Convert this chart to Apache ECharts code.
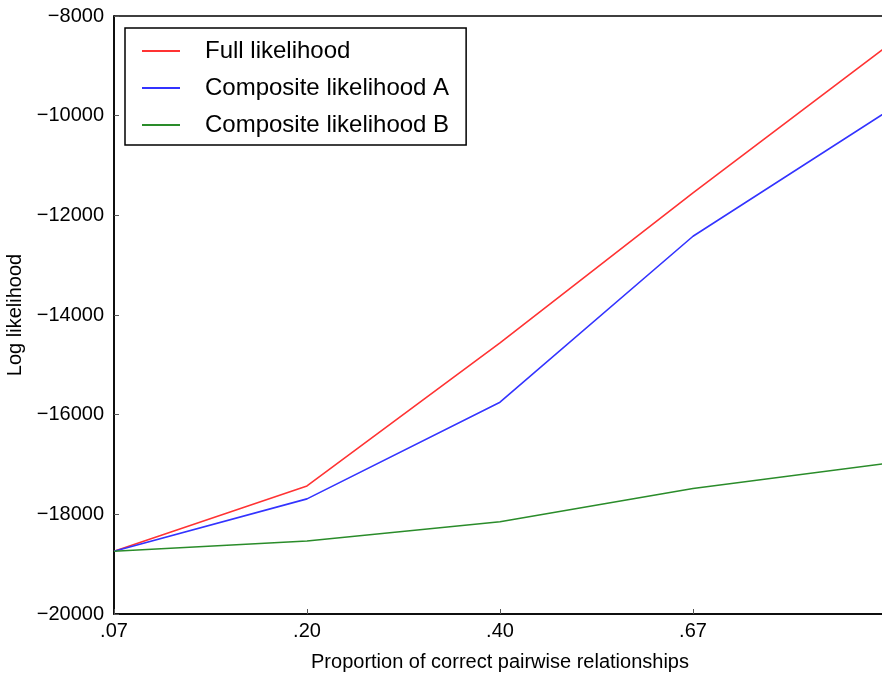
<!DOCTYPE html>
<html>
<head>
<meta charset="utf-8">
<script src="https://cdn.jsdelivr.net/npm/echarts@6/dist/echarts.min.js"></script>
<style>html,body{margin:0;padding:0;background:#fff}#c{width:882px;height:674px}</style>
</head>
<body>
<div id="c"></div>
<script>
const categories = ['.07', '.20', '.40', '.67', ''];
const fullLikelihood = [-18740, -17430, -14560, -11550, -8620];
const compositeA = [-18740, -17690, -15750, -12420, -9930];
const compositeB = [-18740, -18535, -18150, -17480, -16980];
const seriesNames = ['Full likelihood', 'Composite likelihood A', 'Composite likelihood B'];

const chart = echarts.init(document.getElementById('c'));
const font = 'Liberation Sans, Arial, Helvetica, sans-serif';
const minus = v => String(v).replace('-', '\u2212');
chart.setOption({
  animation: false,
  backgroundColor: '#fff',
  grid: { left: 114, right: -4, top: 16, bottom: 60, show: true, borderColor: '#000', borderWidth: 1.5, outerBoundsMode: 'none', containLabel: false },
  legend: {
    orient: 'vertical', left: 125, top: 28,
    backgroundColor: '#fff', borderColor: '#000', borderWidth: 1.5,
    padding: [11, 17, 8, 17], itemGap: 13, itemWidth: 38, itemHeight: 2, icon: 'rect',
    textStyle: { fontFamily: font, fontSize: 24, lineHeight: 20, color: '#000', padding: [0, 0, 0, 20] },
    data: seriesNames
  },
  xAxis: {
    type: 'category', data: categories, boundaryGap: false,
    name: 'Proportion of correct pairwise relationships', nameLocation: 'middle', nameGap: 38,
    nameTextStyle: { fontFamily: font, fontSize: 20, color: '#000' },
    axisLine: { lineStyle: { color: '#000', width: 1.5 } },
    axisTick: { inside: true, length: 5, lineStyle: { color: '#555' } },
    axisLabel: { fontFamily: font, fontSize: 20, color: '#000', margin: 7 },
    splitLine: { show: false }
  },
  yAxis: [{
    type: 'value', min: -20000, max: -8000, interval: 2000,
    name: 'Log likelihood', nameLocation: 'middle', nameGap: 79,
    nameTextStyle: { fontFamily: font, fontSize: 20, color: '#000' },
    axisLine: { show: true, lineStyle: { color: '#000', width: 1.5 } },
    axisTick: { show: true, inside: true, length: 5, lineStyle: { color: '#555' } },
    axisLabel: { fontFamily: font, fontSize: 20, color: '#000', margin: 10, formatter: minus },
    splitLine: { show: false }
  }, {
    type: 'value', min: -20000, max: -8000, interval: 2000, position: 'right',
    axisLine: { show: false },
    axisTick: { show: true, inside: true, length: 4, lineStyle: { color: '#888' } },
    axisLabel: { show: false }, splitLine: { show: false }
  }],
  series: [
    { name: seriesNames[0], type: 'line', data: fullLikelihood, symbol: 'none', lineStyle: { color: '#ff3333', width: 1.6 }, itemStyle: { color: '#ff3333' } },
    { name: seriesNames[1], type: 'line', data: compositeA, symbol: 'none', lineStyle: { color: '#3333ff', width: 1.6 }, itemStyle: { color: '#3333ff' } },
    { name: seriesNames[2], type: 'line', data: compositeB, symbol: 'none', lineStyle: { color: '#2a8c2a', width: 1.6 }, itemStyle: { color: '#2a8c2a' } }
  ]
});
</script>
</body>
</html>
